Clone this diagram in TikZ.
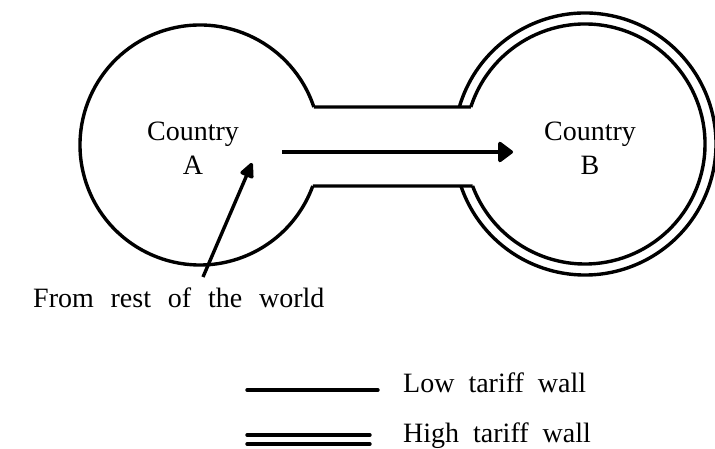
\documentclass[tikz,border=0pt]{standalone}
\usepackage{fontspec}
\setmainfont{Liberation Serif}
\usetikzlibrary{arrows.meta}
\newcommand\widewords{\spaceskip=0.5em plus 0.1em\relax}
\newcommand\widerwords{\spaceskip=0.6em plus 0.1em\relax}
\begin{document}
\begin{tikzpicture}[x=1pt,y=1pt,
  wall/.style={line width=3.4pt,line join=round},
  flow/.style={line width=3.4pt,-{Triangle[length=16pt,width=23pt,round]}},
  inflow/.style={line width=3.4pt,-{Triangle[length=17pt,width=15pt,round]}},
  lbl/.style={inner sep=0pt,align=center,font=\fontsize{28}{34}\selectfont},
  txt/.style={inner sep=0pt,font=\fontsize{28}{34}\selectfont}
]
\useasboundingbox (0,0) rectangle (715,449);
% centres
\coordinate (cA) at (200,304);
\coordinate (cB) at (585,305);
% country A: low tariff wall (single line)
\draw[wall] (cA) ++(18.46:120) coordinate (a1)
  arc[start angle=18.46,end angle=340.02,radius=120] coordinate (a2);
% country B: high tariff wall (double line)
\draw[wall] (cB) ++(162.04:120) coordinate (b1)
  arc[start angle=162.04,end angle=-159.51,radius=120] coordinate (b2);
\draw[wall] (cB) ++(163.59:131) coordinate (o1)
  arc[start angle=163.59,end angle=-161.30,radius=131] coordinate (o2);
% channel
\draw[wall] (a1) -- (b1);
\draw[wall] (a2) -- (b2);
% labels
\node[lbl] (A) at (193,300.5) {Country\\A};
\node[lbl] (B) at (590,300.5) {Country\\B};
% trade flow
\coordinate (fs) at (282,297);
\coordinate (fe) at (513,297);
\draw[flow] (fs) -- (fe);
% from rest of world
\node[txt,anchor=base west] (W) at (33,141) {\widerwords From rest of the world};
\coordinate (ws) at (203,172);
\coordinate (we) at (252,286);
\draw[inflow] (ws) -- (we);
% legend
\node[txt,anchor=base west] (L1) at (403,56) {\widewords Low tariff wall};
\node[txt,anchor=base west] (L2) at (403,6) {\widewords High tariff wall};
\coordinate (l1s) at (247,59);
\coordinate (l1e) at (378,59);
\draw[wall,line cap=round] (l1s) -- (l1e);
\coordinate (l2s) at (247,14);
\coordinate (l2e) at (370,14);
\coordinate (l3s) at (247,5);
\coordinate (l3e) at (370,5);
\draw[wall,line cap=round] (l2s) -- (l2e);
\draw[wall,line cap=round] (l3s) -- (l3e);
\end{tikzpicture}
\end{document}
